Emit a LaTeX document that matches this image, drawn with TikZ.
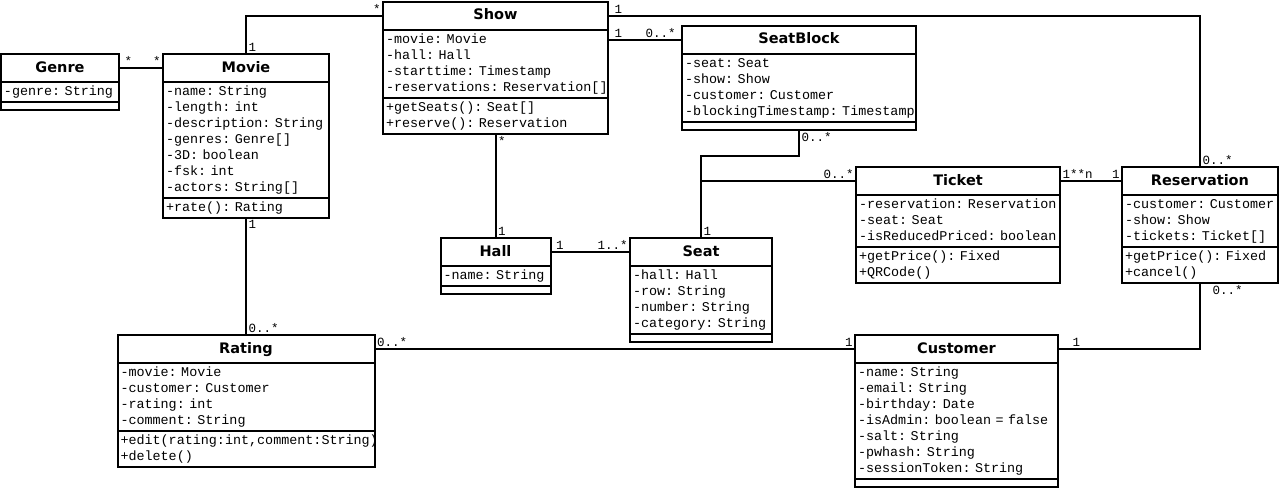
\documentclass[tikz,border=0pt]{standalone}
\usepackage{fontspec}
\setmonofont{Liberation Mono}
\newfontfamily\titlefamily{DejaVu Sans}
\usepackage{tikz}
\usetikzlibrary{positioning}

\tikzset{
  classtitle/.style={draw, line width=2pt, fill=white, outer sep=0pt, inner sep=0pt,
    minimum height=28pt, text height=11pt, text depth=3pt,
    font=\titlefamily\bfseries\fontsize{14.5}{17}\selectfont},
  classpart/.style={draw, line width=2pt, fill=white, outer sep=0pt, inner xsep=3pt,
    inner ysep=2pt, align=left, minimum height=8pt,
    font=\ttfamily\fontsize{13.4}{16}\selectfont},
  mult/.style={font=\ttfamily\fontsize{12.5}{13}\selectfont, inner sep=1.5pt},
  assoc/.style={line width=2pt},
}

% class box: name, top left corner, width, title, attributes, methods
\newcommand{\umlclass}[6]{%
  \pgfmathsetmacro\clswidth{#3-6}%
  \node[classtitle, minimum width=#3pt, anchor=north west] (#1) at (#2) {#4};
  \node[classpart, text width=\clswidth pt, below=0pt of #1] (#1-a) {\strut#5\strut};
  \if\relax\detokenize{#6}\relax
    \node[classpart, minimum width=#3pt, below=0pt of #1-a] (#1-m) {};
  \else
    \node[classpart, text width=\clswidth pt, below=0pt of #1-a] (#1-m) {\strut#6\strut};
  \fi
}

\begin{document}
\begin{tikzpicture}[x=1pt, y=-1pt]
  \useasboundingbox (0,0) rectangle (1279,487);

  % classes
  \umlclass{genre}{1,54}{118}{Genre}{-genre:~String}{}
  \umlclass{movie}{163,54}{166}{Movie}{-name:~String\\-length:~int\\-description:~String\\-genres:~Genre[]\\-3D:~boolean\\-fsk:~int\\-actors:~String[]}{+rate():~Rating}
  \umlclass{show}{383,2}{225}{Show}{-movie:~Movie\\-hall:~Hall\\-starttime:~Timestamp\\-reservations:~Reservation[]}{+getSeats():~Seat[]\\+reserve():~Reservation}
  \umlclass{seatblock}{682,26}{234}{SeatBlock}{-seat:~Seat\\-show:~Show\\-customer:~Customer\\-blockingTimestamp:~Timestamp}{}
  \umlclass{hall}{440.5,238}{110}{Hall}{-name:~String}{}
  \umlclass{seat}{630,238}{142}{Seat}{-hall:~Hall\\-row:~String\\-number:~String\\-category:~String}{}
  \umlclass{ticket}{856,167}{204}{Ticket}{-reservation:~Reservation\\-seat:~Seat\\-isReducedPriced:~boolean}{+getPrice():~Fixed\\+QRCode()}
  \umlclass{reservation}{1122,167}{156}{Reservation}{-customer:~Customer\\-show:~Show\\-tickets:~Ticket[]}{+getPrice():~Fixed\\+cancel()}
  \umlclass{rating}{117.5,335}{257}{Rating}{-movie:~Movie\\-customer:~Customer\\-rating:~int\\-comment:~String}{+edit(rating:int,comment:String)\\+delete()}
  \umlclass{customer}{855,335}{203}{Customer}{-name:~String\\-email:~String\\-birthday:~Date\\-isAdmin:~boolean~=~false\\-salt:~String\\-pwhash:~String\\-sessionToken:~String}{}

  % associations
  \draw[assoc] (genre.east) -- (movie.west)
    node[mult, pos=0, above right, xshift=3pt] {*} node[mult, pos=1, above left] {*};
  \draw[assoc] (movie.north) |- (show.west)
    node[mult, pos=0, above right] {1} node[mult, pos=1, above left] {*};
  \draw[assoc] (show.east) -| (reservation.north)
    node[mult, pos=0, above right, xshift=4pt] {1} node[mult, pos=1, above right] {0..*};
  \draw[assoc] (seatblock.west) -- (seatblock.west -| show.east)
    node[mult, pos=0, above left, xshift=-4pt] {0..*} node[mult, pos=1, above right, xshift=4pt] {1};
  \draw[assoc] (show-m.south) -- (hall.north)
    node[mult, pos=0, below right] {*} node[mult, pos=1, above right] {1};
  \draw[assoc] (hall.east) -- (seat.west)
    node[mult, pos=0, above right, xshift=3pt] {1} node[mult, pos=1, above left] {1..*};
  \draw[assoc] (seatblock-m.south) -- ++(0,26) node[mult, pos=0, below right] {0..*}
    -| (seat.north) node[mult, pos=1, above right] {1};
  \draw[assoc] (ticket.west) -| (seat.north)
    node[mult, pos=0, above left] {0..*};
  \draw[assoc] (ticket.east) -- (reservation.west)
    node[mult, pos=0, above right] {1**n} node[mult, pos=1, above left] {1};
  \draw[assoc] (reservation-m.south) |- (customer.east)
    node[mult, pos=0, below right, xshift=10pt] {0..*} node[mult, pos=1, above right, xshift=12pt] {1};
  \draw[assoc] (movie-m.south) -- (rating.north)
    node[mult, pos=0, below right] {1} node[mult, pos=1, above right] {0..*};
  \draw[assoc] (rating.east) -- (customer.west)
    node[mult, pos=0, above right] {0..*} node[mult, pos=1, above left] {1};
\end{tikzpicture}
\end{document}
